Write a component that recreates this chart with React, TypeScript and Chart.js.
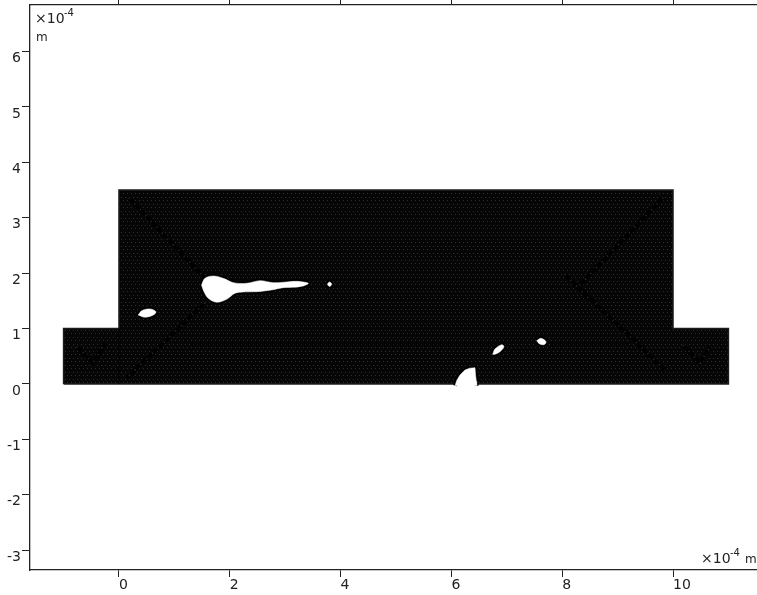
import React, { useEffect, useRef } from "react";
import { Chart, registerables } from "chart.js";

Chart.register(...registerables);

type P = { x: number; y: number };
const pts = (a: number[][]): P[] => a.map(([x, y]) => ({ x, y }));

const xTickValues = [0, 2, 4, 6, 8, 10];
const yTickValues = [-3, -2, -1, 0, 1, 2, 3, 4, 5, 6];

const domain = [[-1, 0], [11, 0], [11, 1], [10, 1], [10, 3.5], [0, 3.5], [0, 1], [-1, 1], [-1, 0]];

const holeLong = [[1.49, 1.787], [1.552, 1.907], [1.703, 1.949], [1.883, 1.907], [2.064, 1.829], [2.305, 1.817], [2.545, 1.865], [2.786, 1.829], [3.027, 1.841], [3.207, 1.853], [3.417, 1.817], [3.327, 1.769], [3.147, 1.745], [2.966, 1.739], [2.756, 1.697], [2.486, 1.666], [2.244, 1.661], [2.094, 1.637], [1.944, 1.529], [1.763, 1.475], [1.612, 1.547], [1.534, 1.666], [1.49, 1.787]];
const holeTiny = [[3.76, 1.8], [3.8, 1.84], [3.84, 1.8], [3.8, 1.76], [3.76, 1.8]];
const holeLeft = [[0.348, 1.245], [0.41, 1.323], [0.56, 1.354], [0.668, 1.305], [0.619, 1.245], [0.469, 1.204], [0.348, 1.245]];
const holeMid = [[6.745, 0.536], [6.787, 0.632], [6.908, 0.71], [6.949, 0.673], [6.877, 0.583], [6.787, 0.536], [6.745, 0.536]];
const holeRight = [[7.539, 0.782], [7.617, 0.825], [7.708, 0.764], [7.671, 0.71], [7.587, 0.728], [7.539, 0.782]];
const holes = [holeLong, holeTiny, holeLeft, holeMid, holeRight];
// open along the domain's lower edge
const holeBottom = [[6.065, -0.03], [6.1, 0.07], [6.155, 0.162], [6.245, 0.253], [6.33, 0.285], [6.426, 0.294], [6.436, 0.162], [6.45, 0.05], [6.456, -0.03]];

const bands = [
  [[0.18, 3.36], [1.55, 1.91]],
  [[1.55, 1.46], [0.14, 0.11]],
  [[9.82, 3.36], [8.285, 1.75]],
  [[8.285, 1.75], [9.86, 0.25]],
  [[8.05, 1.98], [8.5, 1.52]],
  [[-0.76, 0.67], [-0.47, 0.38], [-0.25, 0.74]],
  [[10.18, 0.7], [10.49, 0.38], [10.67, 0.67]],
];
const seams = [
  [[3.9, 1.75], [8.3, 1.75]],
  [[1.3, 0.72], [6.8, 0.72]],
  [[7.8, 0.72], [9.2, 0.72]],
  [[0, 0], [0, 1]],
];

function meshPattern(): CanvasPattern | string {
  const t = document.createElement("canvas");
  t.width = 4;
  t.height = 7;
  const c = t.getContext("2d");
  if (!c) return "#0c0c0c";
  c.fillStyle = "#060606";
  c.fillRect(0, 0, 4, 7);
  c.fillStyle = "#2e2e2e";
  c.fillRect(1, 1, 1, 1);
  c.fillRect(3, 4, 1, 1);
  return c.createPattern(t, "repeat") || "#0c0c0c";
}

const labelPlugin = {
  id: "axisNotes",
  afterDraw(chart: any) {
    const c = chart.ctx;
    c.save();
    c.fillStyle = "#222";
    c.textBaseline = "alphabetic";
    c.textAlign = "left";
    c.font = "14px 'DejaVu Sans'";
    c.fillText("×10", 35, 23);
    c.fillText("×10", 701, 563);
    c.font = "10px 'DejaVu Sans'";
    c.fillText("-4", 64, 16);
    c.fillText("-4", 730, 556);
    c.font = "12px 'DejaVu Sans'";
    c.fillText("m", 36, 41);
    c.fillText("m", 745, 563);
    c.restore();
  },
};

export default function App() {
  const ref = useRef<HTMLCanvasElement>(null);
  useEffect(() => {
    if (!ref.current) return;
    const common = { showLine: true, pointRadius: 0, pointHoverRadius: 0 };
    const list: any[] = [];
    list.push({ ...common, data: pts(domain), fill: "shape", backgroundColor: meshPattern(), borderColor: "#1c1c1c", borderWidth: 1.5 });
    seams.forEach((s) => list.push({ ...common, data: pts(s), borderColor: "rgba(0,0,0,0.6)", borderWidth: 1.5 }));
    bands.forEach((b) => {
      list.push({ ...common, data: pts(b), borderColor: "#000", borderWidth: 4 });
      list.push({ ...common, data: pts(b), borderColor: "#2c2c2c", borderWidth: 2, borderDash: [1, 7] });
    });
    holes.forEach((h) => list.push({ ...common, data: pts(h), tension: 0.35, borderColor: "#000", borderWidth: 4 }));
    list.push({ ...common, data: pts(holeBottom), borderColor: "#000", borderWidth: 4 });
    holes.forEach((h) => list.push({ ...common, data: pts(h), tension: 0.35, fill: "shape", backgroundColor: "#fff", borderColor: "#fff", borderWidth: 0.5 }));
    list.push({ ...common, data: pts(holeBottom), fill: "shape", backgroundColor: "#fff", borderColor: "#fff", borderWidth: 0.5 });
    list.forEach((d, i) => (d.order = list.length - i));

    const tickFont = { family: "'DejaVu Sans'", size: 14 };
    const chart = new Chart(ref.current, {
      type: "scatter",
      data: { datasets: list },
      plugins: [labelPlugin],
      options: {
        animation: false,
        responsive: false,
        devicePixelRatio: 1,
        layout: { padding: 0 },
        plugins: { legend: { display: false }, tooltip: { enabled: false } },
        scales: {
          x: {
            type: "linear",
            position: "bottom",
            min: -1.606,
            max: 11.516,
            afterBuildTicks: (s: any) => { s.ticks = xTickValues.map((value) => ({ value })); },
            afterFit: (s: any) => { s.height = 25; },
            grid: { display: true, drawOnChartArea: false, drawTicks: true, tickLength: 7, color: "#222", lineWidth: 1 },
            border: { display: true, color: "#222", width: 1.3 },
            ticks: { autoSkip: false, maxRotation: 0, align: "start", padding: 0, color: "#222", font: tickFont, callback: (v: any) => String(v) },
          },
          x2: {
            type: "linear",
            position: "top",
            min: -1.606,
            max: 11.516,
            afterBuildTicks: (s: any) => { s.ticks = xTickValues.map((value) => ({ value })); },
            afterFit: (s: any) => { s.height = 5; },
            grid: { display: true, drawOnChartArea: false, drawTicks: true, tickLength: 5, color: "#222", lineWidth: 1 },
            border: { display: true, color: "#222", width: 1.3 },
            ticks: { display: false },
          },
          y: {
            type: "linear",
            position: "left",
            min: -3.357,
            max: 6.84,
            afterBuildTicks: (s: any) => { s.ticks = yTickValues.map((value) => ({ value })); },
            afterFit: (s: any) => { s.width = 30; },
            grid: { display: true, drawOnChartArea: false, drawTicks: true, tickLength: 8, color: "#222", lineWidth: 1 },
            border: { display: true, color: "#222", width: 1.3 },
            ticks: { autoSkip: false, align: "start", padding: 1, color: "#222", font: tickFont, callback: (v: any) => String(v) },
          },
        },
      } as any,
    });
    return () => chart.destroy();
  }, []);
  return (
    <canvas
      ref={ref}
      width={757}
      height={595}
      style={{ position: "fixed", left: 0, top: 0, width: 757, height: 595, display: "block", background: "#fff" }}
    />
  );
}
